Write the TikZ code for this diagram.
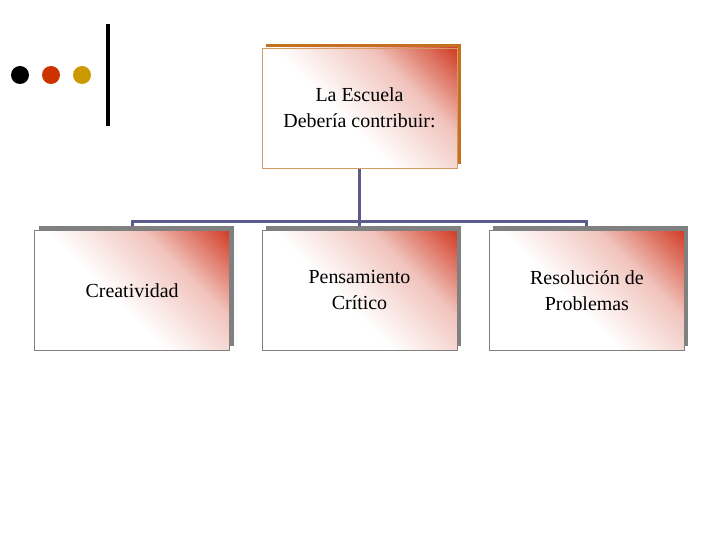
\documentclass[tikz,border=0pt]{standalone}
\usepackage{fontspec}
\setmainfont{Liberation Serif}
\usepackage{tikz}
\usetikzlibrary{positioning, backgrounds, shadows}
\definecolor{boxred}{RGB}{208,56,32}
\definecolor{linkblue}{RGB}{92,92,140}
\definecolor{shadorange}{RGB}{196,112,32}
\definecolor{dotred}{RGB}{204,51,0}
\definecolor{dotgold}{RGB}{204,153,0}
\pgfdeclarehorizontalshading{boxshade}{100bp}{color(0bp)=(white); color(44bp)=(white); color(66bp)=(boxred!30!white); color(86bp)=(boxred); color(100bp)=(boxred)}

\begin{document}
\begin{tikzpicture}[
  x=1bp, y=-1bp,
  node distance=62bp and 32bp,
  every node/.style={font=\fontsize{20}{26}\selectfont},
  box/.style={draw=gray, rectangle, minimum width=195bp, minimum height=120bp, align=center,
    shading=boxshade, shading angle=45,
    general shadow={fill=gray, shadow xshift=4bp, shadow yshift=4bp}},
  topbox/.style={box, draw=shadorange!70!white,
    general shadow={fill=shadorange, shadow xshift=4bp, shadow yshift=4bp}},
  link/.style={draw=linkblue, line width=3bp}
]
\useasboundingbox (0,0) rectangle (720,540);

% Dots and bar
\foreach \c [count=\i] in {black, dotred, dotgold}
  \node[circle, fill=\c, minimum size=18bp, inner sep=0pt] (dot\i) at (20+31*\i-31,75) {};
\draw[line width=3.5bp] (108,24) -- (108,126);

% Top box
\node[topbox] (escuela) at (359.5,108) {La Escuela\\Debería contribuir:};

% Second row
\node[box, below=of escuela] (pensamiento) {Pensamiento\\Crítico};
\node[box, left=of pensamiento] (creatividad) {Creatividad};
\node[box, right=of pensamiento] (resolucion) {Resolución de\\Problemas};

% Links
\begin{scope}[on background layer]
\draw[link] (escuela) -- (pensamiento);
\draw[link] (creatividad.north) -- ++(0,9bp) -| (resolucion.north);
\end{scope}

\end{tikzpicture}
\end{document}
